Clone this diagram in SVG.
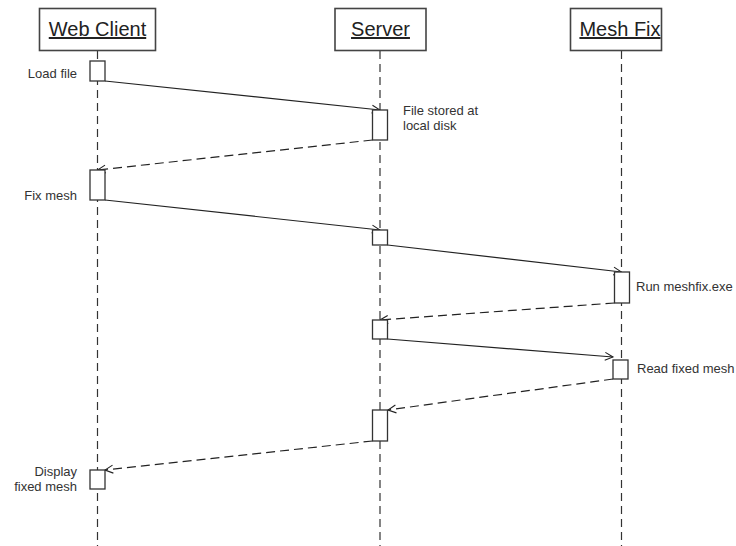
<svg xmlns="http://www.w3.org/2000/svg" width="736" height="546" viewBox="0 0 736 546">
  <defs>
    <marker id="arr" markerWidth="12" markerHeight="12" refX="9" refY="5" orient="auto" markerUnits="userSpaceOnUse">
      <path d="M1,1 L9,5 L1,9" fill="none" stroke="#222" stroke-width="1.1"/>
    </marker>
    <style>
      .head { fill: #fff; stroke: #444; stroke-width: 1.6; }
      .htxt { font-family: "Liberation Sans", Arial, sans-serif; font-size: 20px; fill: #222; text-anchor: middle; text-decoration: underline; }
      .life { stroke: #333; stroke-width: 1.2; stroke-dasharray: 8 5; fill: none; }
      .act { fill: #fff; stroke: #333; stroke-width: 1.3; }
      .msg { stroke: #222; stroke-width: 1.2; fill: none; marker-end: url(#arr); }
      .ret { stroke: #222; stroke-width: 1.2; fill: none; stroke-dasharray: 9 5; marker-end: url(#arr); }
      .lbl { font-family: "Liberation Sans", Arial, sans-serif; font-size: 13px; fill: #333; }
      .end { text-anchor: end; }
    </style>
  </defs>
  <rect width="736" height="546" fill="#fff"/>

  <g id="lifelines">
    <line class="life" x1="97.5" y1="51" x2="97.5" y2="546"/>
    <line class="life" x1="380" y1="51" x2="380" y2="546"/>
    <line class="life" x1="621.5" y1="51" x2="621.5" y2="546"/>
  </g>

  <g id="web-client">
    <rect class="head" x="39.5" y="8.5" width="116" height="42"/>
    <text class="htxt" x="97.5" y="36">Web Client</text>
  </g>
  <g id="server">
    <rect class="head" x="335" y="8.5" width="91" height="42"/>
    <text class="htxt" x="380.5" y="36">Server</text>
  </g>
  <g id="mesh-fix">
    <rect class="head" x="570.5" y="8.5" width="91" height="42"/>
    <text class="htxt" x="620" y="36">Mesh Fix</text>
  </g>

  <g id="connectors">
    <line class="msg" x1="105" y1="81" x2="380" y2="110"/>
    <line class="ret" x1="372.5" y1="140" x2="97.5" y2="170"/>
    <line class="msg" x1="105" y1="200" x2="380" y2="230"/>
    <line class="msg" x1="387.5" y1="245" x2="621.5" y2="272"/>
    <line class="ret" x1="614.5" y1="303" x2="380" y2="320"/>
    <line class="msg" x1="387.5" y1="339" x2="613" y2="357"/>
    <line class="ret" x1="613" y1="379" x2="388" y2="410"/>
    <line class="ret" x1="372.5" y1="441" x2="105" y2="470"/>
  </g>

  <g id="act-load-file">
    <rect class="act" x="90" y="61" width="15" height="20"/>
    <text class="lbl end" x="77" y="78">Load file</text>
  </g>
  <g id="act-file-stored">
    <rect class="act" x="372.5" y="110" width="15" height="30"/>
    <text class="lbl" x="403" y="115">File stored at</text>
    <text class="lbl" x="403" y="130">local disk</text>
  </g>
  <g id="act-fix-mesh">
    <rect class="act" x="90" y="170" width="15" height="30"/>
    <text class="lbl end" x="77" y="200">Fix mesh</text>
  </g>
  <g id="act-server-2">
    <rect class="act" x="372.5" y="230" width="15" height="15"/>
  </g>
  <g id="act-run-meshfix">
    <rect class="act" x="614.5" y="272" width="15" height="31"/>
    <text class="lbl" x="636" y="291">Run meshfix.exe</text>
  </g>
  <g id="act-server-3">
    <rect class="act" x="372.5" y="320" width="15" height="19"/>
  </g>
  <g id="act-read-fixed">
    <rect class="act" x="613" y="360" width="15" height="19"/>
    <text class="lbl" x="637" y="373">Read fixed mesh</text>
  </g>
  <g id="act-server-4">
    <rect class="act" x="372.5" y="410" width="15" height="31"/>
  </g>
  <g id="act-display">
    <rect class="act" x="90" y="470" width="15" height="19"/>
    <text class="lbl end" x="77" y="476">Display</text>
    <text class="lbl end" x="77" y="491">fixed mesh</text>
  </g>
</svg>
